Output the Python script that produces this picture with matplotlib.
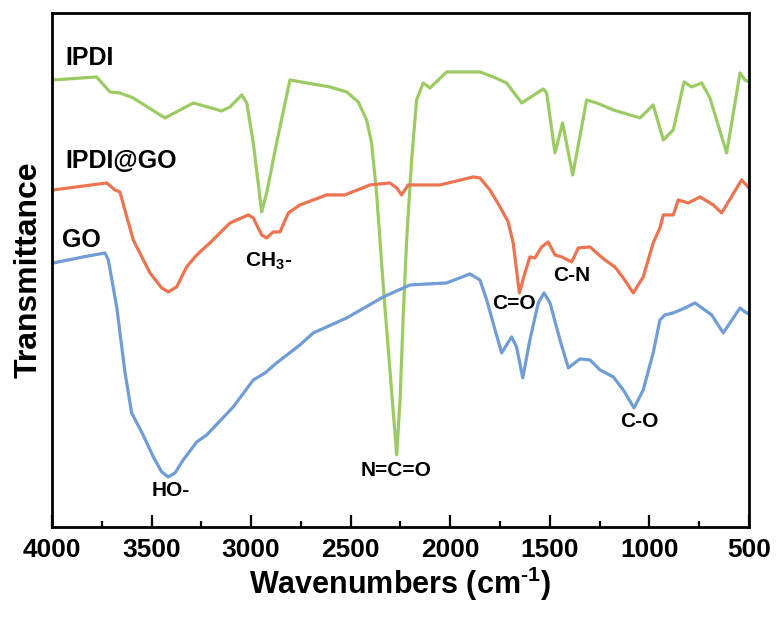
import matplotlib
matplotlib.use("Agg")
import matplotlib.pyplot as plt
from matplotlib.ticker import MultipleLocator

plt.rcParams["font.family"] = ["Liberation Sans", "DejaVu Sans"]
plt.rcParams["font.weight"] = "bold"
plt.rcParams["mathtext.fontset"] = "custom"
plt.rcParams["mathtext.rm"] = "Liberation Sans:bold"
plt.rcParams["mathtext.bf"] = "Liberation Sans:bold"
plt.rcParams["mathtext.default"] = "rm"

# wavenumber (cm-1) / transmittance (arb. units, offset stacked)
ipdi_x = [3993, 3776, 3709, 3659, 3592, 3433, 3290, 3148, 3106, 3047, 3022, 2989,
          2947, 2922, 2872, 2805, 2721, 2604, 2520, 2462, 2420, 2395, 2370, 2353,
          2336, 2303, 2269, 2252, 2237, 2219, 2194, 2169, 2136, 2102, 2018, 1851,
          1784, 1717, 1641, 1533, 1516, 1474, 1436, 1385, 1315, 1265, 1181, 1047,
          981, 930, 880, 826, 788, 737, 696, 612, 545, 520, 500]
ipdi_y = [447, 450, 435, 434, 429, 409, 424, 416, 420, 432, 424, 384,
          315, 334, 384, 447, 444, 440, 435, 425, 407, 384, 334, 287,
          240, 157, 72, 127, 207, 287, 367, 427, 444, 439, 455, 455,
          450, 444, 424, 438, 434, 374, 404, 352, 427, 424, 417, 409,
          422, 387, 397, 445, 440, 444, 429, 374, 454, 447, 445]

ipdi_go_x = [3993, 3725, 3684, 3659, 3592, 3508, 3449, 3416, 3374, 3324, 3273, 3207,
             3106, 3014, 2989, 2947, 2922, 2889, 2855, 2813, 2755, 2621, 2529, 2504,
             2403, 2303, 2269, 2244, 2211, 2169, 2052, 1884, 1851, 1801, 1750, 1709,
             1684, 1653, 1625, 1600, 1575, 1541, 1508, 1474, 1440, 1390, 1357, 1298,
             1265, 1223, 1173, 1131, 1081, 1031, 981, 947, 930, 880, 855, 805, 746,
             679, 637, 537, 500]
ipdi_go_y = [337, 344, 337, 335, 287, 254, 239, 235, 240, 260, 272, 284,
             304, 312, 309, 292, 289, 295, 295, 314, 322, 332, 332, 334,
             342, 344, 339, 332, 342, 342, 342, 350, 349, 337, 320, 305,
             284, 234, 254, 270, 269, 280, 285, 272, 270, 265, 279, 280,
             274, 267, 260, 249, 234, 250, 284, 299, 312, 312, 327, 324, 330,
             322, 314, 347, 339]

go_x = [3993, 3843, 3734, 3717, 3675, 3633, 3600, 3550, 3491, 3449, 3416, 3382,
        3341, 3273, 3223, 3090, 2989, 2930, 2872, 2755, 2688, 2520, 2336, 2202,
        2018, 1901, 1851, 1817, 1775, 1742, 1692, 1667, 1636, 1600, 1558, 1529,
        1499, 1449, 1407, 1349, 1298, 1248, 1181, 1131, 1077, 1031, 981, 947,
        922, 880, 821, 771, 687, 629, 545, 520, 500]
go_y = [264, 270, 274, 267, 220, 154, 114, 95, 70, 55, 50, 54,
        67, 85, 92, 120, 147, 154, 164, 182, 194, 209, 230, 242,
        244, 253, 247, 227, 197, 174, 190, 180, 149, 187, 224, 234,
        224, 187, 159, 168, 167, 157, 150, 137, 119, 137, 174, 207,
        212, 214, 219, 224, 212, 194, 219, 215, 213]

names = ["IPDI", "IPDI@GO", "GO"]
colors = ["#9CCB63", "#EC7450", "#709DD6"]

fig = plt.figure(figsize=(7.77, 6.17), dpi=100)
ax = fig.add_axes([0.0669, 0.146, 0.897, 0.833])

for xs, ys, c in zip([ipdi_x, ipdi_go_x, go_x], [ipdi_y, ipdi_go_y, go_y], colors):
    ax.plot(xs, ys, color=c, lw=2.3, solid_joinstyle="round")

ax.set_xlim(4000, 500)
ax.set_ylim(0, 514)
ax.set_yticks([])
ax.xaxis.set_major_locator(MultipleLocator(500))
ax.xaxis.set_minor_locator(MultipleLocator(250))
ax.tick_params(axis="x", which="major", direction="in", length=9, width=1.6,
               labelsize=19, pad=8)
ax.tick_params(axis="x", which="minor", direction="in", length=4.5, width=1.6)
for s in ax.spines.values():
    s.set_linewidth(2)

ax.set_xlabel(r"Wavenumbers (cm$^{\text{-}1}$)", fontsize=22, fontweight="bold", labelpad=2)
ax.set_ylabel("Transmittance", fontsize=23, fontweight="bold", labelpad=6)

# curve names
ax.text(3935, 469, names[0], fontsize=18, fontweight="bold", ha="left", va="center")
ax.text(3935, 366, names[1], fontsize=18, fontweight="bold", ha="left", va="center")
ax.text(3950, 287, names[2], fontsize=18, fontweight="bold", ha="left", va="center")

# band assignments
bands = ["CH$_3$-", "HO-", "N=C=O", "C=O", "C-N", "C-O"]
band_x = [2910, 3402, 2273, 1680, 1389, 1052]
band_y = [266, 36, 56, 223, 251, 105]
for t, bx, by in zip(bands, band_x, band_y):
    ax.text(bx, by, t, fontsize=15, fontweight="bold", ha="center", va="center")

fig.savefig("out.png", dpi=100)
